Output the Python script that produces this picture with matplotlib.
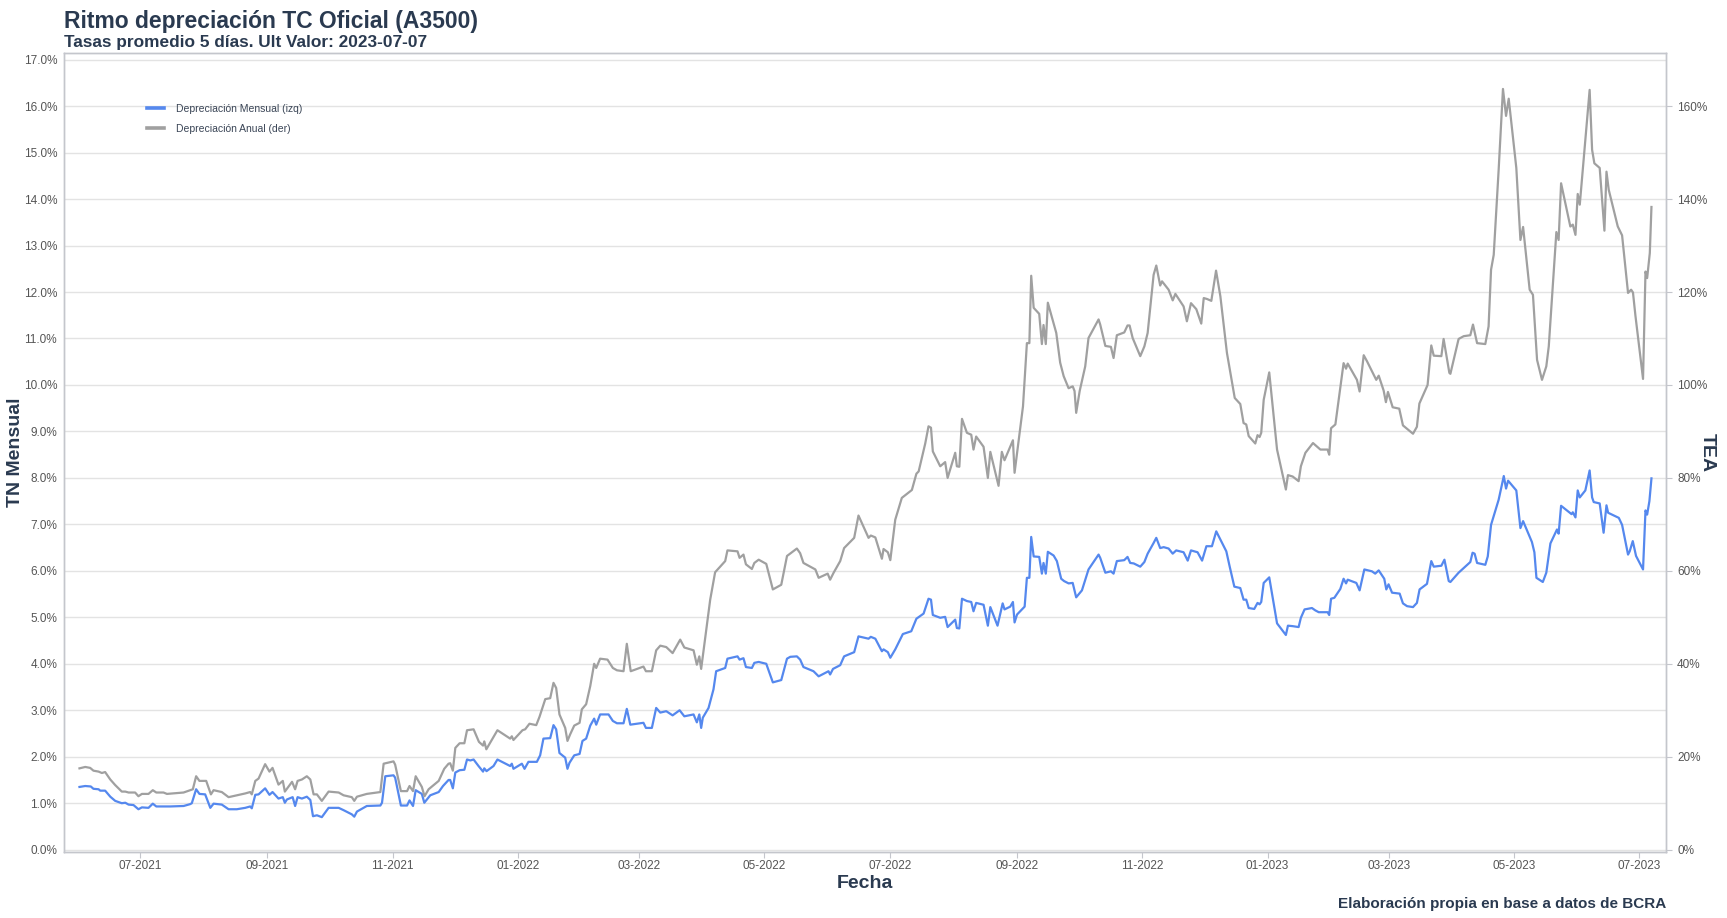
import matplotlib
matplotlib.use("Agg")
import matplotlib.pyplot as plt
import matplotlib.dates as mdates
from matplotlib.ticker import FuncFormatter, MultipleLocator
import pandas as pd

plt.rcParams["font.family"] = ["Liberation Sans", "DejaVu Sans"]

BASE = pd.Timestamp("2021-07-01")

# dias desde 2021-07-01 y tasa nominal mensual (%), eje izquierdo
dias_mensual = [
    -29.5, -26.7, -24.0, -22.7, -20.2, -19.4, -17.0, -14.5, -12.1, -8.9, -7.2, -5.6, -3.2, -0.8, 0.9, 4.1,
    6.2, 7.9, 14.7, 21.2, 24.4, 25.2, 27.3, 28.9, 31.7, 34.2, 35.8, 39.8, 43.1, 47.1, 51.2, 53.6, 54.4,
    56.1, 57.7, 60.9, 63.0, 64.5, 67.4, 69.5, 70.5, 71.5, 74.3, 75.5, 76.7, 78.8, 81.2, 82.9, 84.2, 86.1,
    88.5, 91.8, 96.7, 99.1, 103.1, 104.3, 105.6, 108.0, 110.4, 117.0, 117.8, 119.4, 123.4, 124.2, 127.0,
    130.0, 131.2, 132.9, 134.2, 137.2, 138.4, 141.3, 145.4, 147.5, 150.2, 151.0, 152.3, 153.5, 155.6,
    157.9, 159.2, 160.8, 162.4, 164.8, 167.0, 167.6, 168.7, 172.1, 174.0, 180.2, 181.0, 181.8, 185.9,
    187.2, 189.1, 193.2, 194.8, 196.4, 199.7, 201.3, 202.6, 204.2, 207.0, 208.1, 209.1, 211.4, 214.0,
    215.4, 217.2, 219.2, 221.1, 222.1, 224.0, 228.1, 230.2, 232.2, 235.4, 237.0, 238.7, 245.1, 246.3,
    249.2, 251.3, 253.3, 256.2, 259.3, 262.7, 265.0, 269.5, 271.1, 272.3, 273.2, 274.0, 276.8, 279.2,
    280.5, 284.9, 286.0, 290.9, 291.9, 293.8, 295.0, 297.9, 299.1, 301.2, 304.9, 308.1, 312.2, 315.0,
    316.6, 319.8, 321.4, 323.0, 327.9, 330.4, 335.2, 336.0, 337.4, 340.9, 342.8, 347.7, 349.8, 354.7,
    355.8, 358.0, 361.2, 362.0, 364.1, 365.3, 367.7, 371.4, 375.5, 378.0, 381.5, 383.9, 385.1, 386.0,
    389.6, 392.0, 393.2, 396.9, 397.7, 398.9, 400.2, 402.6, 404.7, 405.8, 407.1, 410.7, 412.8, 414.0,
    417.5, 420.0, 420.9, 423.7, 425.0, 425.8, 427.0, 430.7, 431.8, 433.0, 433.9, 435.1, 437.8, 439.1,
    439.9, 441.0, 442.0, 444.8, 446.4, 448.5, 449.9, 452.1, 454.1, 455.8, 458.6, 461.8, 466.7, 467.5,
    470.0, 472.7, 474.0, 475.6, 479.2, 480.8, 482.1, 483.8, 487.0, 489.0, 490.6, 493.5, 494.8, 496.7,
    498.4, 500.8, 502.8, 504.5, 508.1, 510.1, 511.7, 514.9, 517.1, 519.2, 521.9, 524.0, 528.9, 530.5,
    532.8, 535.7, 537.3, 538.6, 539.8, 542.5, 544.1, 545.1, 545.9, 547.1, 549.8, 553.6, 557.9, 558.9,
    561.2, 564.1, 565.2, 567.0, 570.6, 572.2, 573.9, 578.2, 579.0, 579.9, 581.5, 584.4, 586.0, 587.2,
    588.0, 592.2, 593.8, 596.1, 599.8, 601.4, 603.1, 605.8, 606.8, 607.9, 609.6, 613.3, 614.9, 616.9,
    619.8, 621.7, 623.0, 626.6, 628.7, 629.9, 633.6, 635.1, 637.2, 638.0, 642.0, 647.7, 648.8, 649.8,
    651.0, 655.0, 656.2, 657.8, 661.5, 664.0, 665.1, 666.1, 670.1, 672.1, 673.4, 677.7, 678.9, 679.9,
    683.0, 684.7, 686.7, 689.9, 690.7, 691.9, 697.0, 697.6, 698.9, 700.0, 701.0, 703.7, 705.8, 707.0,
    707.8, 710.7, 712.6, 714.0, 714.8, 720.0, 721.6, 724.5, 725.3, 726.8, 728.4, 731.8, 733.0, 733.8,
    734.9, 735.9,
]
tn_mensual = [
    1.35, 1.37, 1.36, 1.31, 1.30, 1.27, 1.27, 1.14, 1.05, 1.00, 1.01, 0.97, 0.96, 0.87, 0.91, 0.90,
    0.99, 0.93, 0.93, 0.94, 0.98, 1.00, 1.30, 1.20, 1.19, 0.90, 0.99, 0.97, 0.87, 0.87, 0.90, 0.93, 0.89,
    1.18, 1.19, 1.32, 1.18, 1.24, 1.10, 1.13, 1.01, 1.08, 1.13, 0.94, 1.13, 1.10, 1.14, 1.07, 0.72, 0.74,
    0.70, 0.90, 0.90, 0.85, 0.76, 0.71, 0.82, 0.88, 0.94, 0.95, 1.01, 1.58, 1.60, 1.55, 0.95,
    0.95, 1.06, 0.94, 1.28, 1.20, 1.01, 1.17, 1.24, 1.37, 1.50, 1.50, 1.32, 1.66, 1.71,
    1.72, 1.94, 1.92, 1.94, 1.80, 1.68, 1.75, 1.69, 1.80, 1.94, 1.80, 1.85, 1.74, 1.85,
    1.74, 1.89, 1.89, 2.03, 2.39, 2.40, 2.68, 2.59, 2.08, 1.98, 1.74, 1.87, 2.03, 2.06,
    2.34, 2.39, 2.67, 2.82, 2.69, 2.91, 2.91, 2.77, 2.72, 2.72, 3.03, 2.69, 2.73, 2.62,
    2.62, 3.05, 2.95, 2.98, 2.89, 3.00, 2.87, 2.91, 2.74, 2.91, 2.62, 2.84, 3.05, 3.45,
    3.84, 3.91, 4.11, 4.16, 4.09, 4.12, 3.93, 3.91, 4.02, 4.04, 4.00, 3.60, 3.65, 4.11,
    4.15, 4.16, 4.09, 3.93, 3.84, 3.73, 3.84, 3.77, 3.89, 3.97, 4.16, 4.25, 4.59, 4.54,
    4.58, 4.54, 4.27, 4.31, 4.25, 4.13, 4.31, 4.64, 4.70, 4.97, 5.08, 5.40, 5.38, 5.05,
    4.99, 5.01, 4.79, 4.95, 4.77, 4.76, 5.40, 5.35, 5.33, 5.13, 5.31, 5.27, 4.82, 5.22,
    4.82, 5.30, 5.17, 5.23, 5.33, 4.89, 5.06, 5.23, 5.85, 5.85, 6.73, 6.31, 6.30, 5.94,
    6.17, 5.94, 6.41, 6.33, 6.21, 5.83, 5.78, 5.73, 5.74, 5.43, 5.58, 6.03, 6.35, 6.28,
    5.96, 5.99, 5.94, 6.21, 6.23, 6.30, 6.17, 6.16, 6.09, 6.19, 6.37, 6.60, 6.71, 6.49,
    6.51, 6.48, 6.37, 6.44, 6.40, 6.22, 6.44, 6.40, 6.22, 6.53, 6.53, 6.85, 6.42, 6.10,
    5.66, 5.63, 5.38, 5.38, 5.20, 5.18, 5.31, 5.28, 5.33, 5.74, 5.86, 4.87, 4.62, 4.82,
    4.81, 4.79, 4.99, 5.17, 5.20, 5.15, 5.11, 5.11, 5.05, 5.40, 5.42, 5.61, 5.83, 5.73,
    5.81, 5.74, 5.58, 6.03, 5.99, 5.94, 6.01, 5.83, 5.60, 5.71, 5.53, 5.51, 5.30, 5.24,
    5.22, 5.31, 5.60, 5.72, 6.21, 6.09, 6.11, 6.24, 5.78, 5.76, 5.96, 6.19, 6.39, 6.37,
    6.17, 6.13, 6.31, 6.99, 7.53, 8.04, 7.77, 7.94, 7.73, 6.92, 7.07, 6.62, 6.40, 5.85,
    5.76, 5.96, 6.59, 6.89, 6.80, 7.40, 7.22, 7.26, 7.15, 7.73, 7.58, 7.73, 8.16, 7.58,
    7.48, 7.45, 6.82, 7.41, 7.25, 7.14, 6.99, 6.35, 6.42, 6.64, 6.32, 6.03, 7.30, 7.21,
    7.50, 7.99,
]

# dias desde 2021-07-01 y tasa efectiva anual (%), eje derecho
dias_anual = [
    -29.5, -26.7, -24.3, -22.7, -20.2, -18.6, -17.0, -14.5, -12.1, -8.9, -7.2, -5.6, -2.4, -0.8, 0.9, 4.1,
    6.2, 7.9, 11.4, 13.1, 21.2, 24.4, 25.7, 27.3, 28.9, 32.2, 34.5, 35.8, 39.8, 43.1, 47.1, 51.2, 53.6,
    54.4, 56.1, 57.7, 60.9, 63.0, 64.5, 67.4, 69.5, 70.5, 74.0, 75.5, 76.7, 78.8, 81.2, 82.9, 84.5, 86.1,
    88.5, 91.8, 96.7, 99.1, 103.1, 104.3, 105.6, 108.0, 110.4, 117.0, 118.6, 123.4, 124.2, 127.0, 130.0,
    131.2, 132.9, 134.2, 137.2, 138.5, 140.5, 145.4, 148.1, 150.2, 151.0, 152.3, 153.5, 155.6, 157.9,
    159.2, 162.4, 165.0, 167.0, 167.6, 168.6, 174.0, 180.2, 181.0, 181.8, 186.2, 187.5, 189.6, 192.9,
    194.5, 197.3, 199.7, 201.3, 202.6, 204.2, 207.0, 208.1, 209.4, 211.4, 214.0, 215.1, 217.2, 219.2,
    221.1, 222.1, 224.0, 227.6, 230.2, 232.2, 235.4, 237.0, 238.9, 245.1, 246.3, 249.2, 251.3, 253.3,
    256.2, 259.3, 263.0, 265.0, 269.5, 271.1, 272.3, 273.2, 277.6, 280.0, 284.9, 286.0, 290.9, 291.9,
    293.8, 295.0, 297.9, 299.1, 301.2, 304.9, 308.1, 312.2, 315.0, 319.8, 321.4, 323.0, 328.8, 330.4,
    334.8, 336.0, 337.7, 340.9, 342.8, 347.7, 349.8, 354.7, 355.8, 358.0, 361.2, 362.0, 364.1, 365.3,
    367.7, 370.9, 375.8, 378.0, 379.1, 382.3, 383.9, 385.1, 386.0, 389.6, 392.0, 393.2, 396.9, 397.7,
    398.9, 400.2, 402.6, 404.7, 405.8, 407.1, 410.7, 412.8, 414.0, 418.0, 419.6, 420.9, 425.0, 425.8,
    429.9, 431.8, 433.0, 433.9, 435.1, 437.8, 439.1, 439.9, 441.0, 442.0, 446.1, 448.0, 449.7, 452.1,
    454.1, 455.0, 455.8, 457.5, 460.2, 461.8, 466.7, 467.5, 470.0, 472.7, 474.0, 475.6, 479.2, 480.8,
    481.8, 483.3, 487.0, 489.0, 490.6, 493.5, 494.8, 496.7, 497.6, 500.8, 502.8, 504.1, 508.1, 509.7,
    511.7, 514.3, 516.7, 517.9, 519.5, 521.6, 523.9, 526.0, 529.2, 533.0, 535.7, 537.3, 538.6, 539.8,
    543.0, 544.1, 545.1, 545.9, 547.1, 549.8, 553.6, 557.9, 558.9, 561.2, 564.1, 565.2, 567.4, 571.1,
    573.4, 574.7, 578.2, 579.0, 579.9, 582.0, 586.0, 587.2, 588.0, 591.7, 592.5, 593.8, 595.8, 597.4,
    601.9, 603.1, 605.5, 606.6, 607.6, 609.9, 613.1, 614.9, 619.8, 621.7, 622.9, 626.9, 628.7, 629.9,
    633.6, 634.7, 637.5, 638.0, 642.0, 644.5, 647.7, 649.0, 651.0, 655.0, 656.6, 657.8, 659.1, 661.5,
    663.6, 665.1, 666.4, 670.1, 672.1, 673.4, 676.6, 678.2, 680.2, 682.6, 684.7, 685.9, 689.6, 690.7,
    691.9, 696.4, 697.6, 698.9, 700.0, 701.0, 705.8, 707.0, 708.1, 710.7, 713.0, 714.0, 715.1, 719.5,
    721.6, 724.5, 726.0, 726.9, 728.1, 731.8, 733.0, 733.8, 735.1, 735.9,
]
tea_anual = [
    17.5, 17.8, 17.6, 17.0, 16.8, 16.5, 16.7, 15.1, 13.9, 12.5, 12.5, 12.3, 12.3, 11.5, 12.0, 12.0,
    12.8, 12.3, 12.3, 12.0, 12.3, 12.8, 13.0, 15.8, 14.8, 14.8, 11.9, 12.8, 12.4, 11.3, 11.7, 12.1, 12.4,
    11.9, 14.8, 15.3, 18.4, 16.8, 17.6, 14.0, 14.8, 12.5, 14.6, 13.0, 14.8, 15.1, 15.8, 15.1, 11.9, 11.9,
    10.5, 12.5, 12.3, 11.7, 11.3, 10.5, 11.4, 11.7, 12.0, 12.4, 18.5, 19.0, 18.3, 12.6, 12.6,
    13.7, 12.6, 15.8, 13.5, 11.5, 13.0, 14.8, 17.4, 18.5, 18.6, 17.0, 21.9, 22.9, 22.9,
    25.7, 25.9, 23.2, 22.4, 23.3, 21.6, 25.7, 23.9, 24.4, 23.6, 25.7, 25.9, 27.1, 26.8,
    28.6, 32.4, 32.6, 35.9, 34.8, 29.1, 26.2, 23.4, 24.8, 26.7, 27.3, 30.2, 31.3, 35.2,
    40.0, 39.1, 41.1, 40.9, 39.1, 38.6, 38.4, 44.3, 38.4, 39.4, 38.4, 38.4, 42.9, 43.9,
    43.6, 42.3, 45.2, 43.5, 42.9, 39.8, 41.6, 38.9, 53.8, 59.7, 62.1, 64.4, 64.2, 62.8,
    63.5, 61.4, 60.4, 61.7, 62.4, 61.5, 56.0, 57.0, 63.2, 64.8, 63.8, 61.7, 60.3, 58.5,
    59.4, 58.1, 59.6, 62.1, 64.9, 67.1, 71.9, 67.1, 67.6, 67.2, 62.6, 64.7, 64.0, 62.3,
    71.0, 75.7, 77.4, 80.9, 81.4, 87.4, 91.1, 90.8, 85.7, 82.5, 83.4, 80.0, 85.4, 82.5,
    82.4, 92.7, 89.7, 89.3, 86.1, 88.9, 86.7, 80.0, 85.6, 78.3, 85.6, 83.8, 88.1, 81.1,
    95.4, 109.0, 109.0, 123.5, 116.6, 115.3, 108.8, 112.9, 108.8, 117.7, 111.2, 104.8, 101.9, 99.3,
    99.7, 98.7, 94.0, 98.7, 104.0, 110.1, 114.1, 113.0, 108.4, 108.2, 105.8, 110.7, 111.3, 112.8,
    112.8, 110.1, 106.2, 108.3, 111.2, 123.7, 125.7, 121.4, 122.3, 120.5, 118.2, 119.6, 116.9, 113.7,
    117.6, 116.3, 113.2, 118.7, 118.5, 118.1, 124.6, 119.1, 106.9, 97.2, 95.9, 91.8, 91.5, 89.0,
    87.4, 89.2, 88.8, 89.7, 96.8, 102.7, 86.1, 77.5, 80.6, 80.3, 79.3, 82.5, 85.4, 87.5,
    86.6, 86.1, 86.1, 85.0, 90.7, 91.5, 104.7, 103.5, 104.6, 101.7, 101.1, 98.6, 106.4, 105.1,
    101.1, 102.0, 98.8, 96.3, 98.5, 95.2, 94.9, 91.3, 89.5, 91.0, 96.0, 100.0, 108.5, 106.3,
    106.2, 109.9, 102.6, 102.4, 109.9, 110.5, 110.7, 113.0, 109.0, 108.8, 112.6, 124.8, 128.0, 146.3,
    163.7, 157.9, 161.6, 146.7, 131.2, 134.0, 120.5, 119.4, 105.4, 101.1, 104.0, 108.3, 132.9, 131.2,
    143.4, 134.1, 134.5, 132.3, 141.1, 138.8, 163.5, 150.6, 147.7, 146.7, 133.2, 145.9, 142.0, 134.1,
    132.2, 119.8, 120.5, 119.9, 114.9, 101.3, 124.4, 123.0, 128.4, 138.3,
]

fechas_mensual = BASE + pd.to_timedelta(dias_mensual, unit="D")
fechas_anual = BASE + pd.to_timedelta(dias_anual, unit="D")

TXT = "#2a3a50"
TICK = "#555555"
FRAME = "#c4c6cc"

fig = plt.figure(figsize=(17.27, 9.18), dpi=100)
ax = fig.add_axes([0.0371, 0.0719, 0.9276, 0.8707])
ax2 = ax.twinx()

ax.plot(fechas_mensual, tn_mensual, color="#5588ee", lw=1.6, label="Depreciación Mensual (izq)", zorder=3)
ax2.plot(fechas_anual, tea_anual, color="#a0a0a0", lw=1.6, label="Depreciación Anual (der)", zorder=2)

ax.set_ylim(-0.05, 17.15)
ax2.set_ylim(-0.5, 171.5)
ax.set_xlim(BASE + pd.Timedelta(days=-37), BASE + pd.Timedelta(days=743))

ax.yaxis.set_major_locator(MultipleLocator(1))
ax.yaxis.set_major_formatter(FuncFormatter(lambda v, p: f"{v:.1f}%"))
ax2.yaxis.set_major_locator(MultipleLocator(20))
ax2.yaxis.set_major_formatter(FuncFormatter(lambda v, p: f"{v:.0f}%"))
ax.xaxis.set_major_locator(mdates.MonthLocator(bymonth=[1, 3, 5, 7, 9, 11]))
ax.xaxis.set_major_formatter(mdates.DateFormatter("%m-%Y"))

ax.grid(axis="y", color="#e3e3e3", lw=1)
ax.set_axisbelow(True)
ax.tick_params(axis="y", labelsize=8.5, colors=TICK, length=0, pad=5)
ax.tick_params(axis="x", labelsize=8.5, colors=TICK, length=4, width=0.8, pad=2)
ax.tick_params(axis="x", color=FRAME)
ax2.tick_params(axis="y", labelsize=8.5, colors=TICK, length=4, width=0.8, pad=4)
ax2.tick_params(axis="y", color=FRAME)
for a in (ax, ax2):
    for s in a.spines.values():
        s.set_color(FRAME)
        s.set_linewidth(1)

ax.set_xlabel("Fecha", fontsize=14, fontweight="bold", color=TXT)
ax.xaxis.set_label_coords(0.5, -0.029)
ax.set_ylabel("TN Mensual", fontsize=14, fontweight="bold", color=TXT, va="center")
ax.yaxis.set_label_coords(-0.0305, 0.5)
ax2.set_ylabel("TEA", fontsize=14, fontweight="bold", color=TXT, rotation=-90, va="center")
ax2.yaxis.set_label_coords(1.0256, 0.5)

h1, l1 = ax.get_legend_handles_labels()
h2, l2 = ax2.get_legend_handles_labels()
leg = ax2.legend(h1 + h2, l1 + l2, loc="upper left", bbox_to_anchor=(0.046, 0.9475), frameon=False,
                 fontsize=7.5, handlelength=1.6, handletextpad=1.15, labelspacing=0.95, labelcolor="#3a4556")
for ln in leg.get_lines():
    ln.set_linewidth(2.6)

fig.text(0.0371, 1 - 28 / 918, "Ritmo depreciación TC Oficial (A3500)", fontsize=16.5,
         fontweight="bold", color=TXT, va="baseline")
fig.text(0.0371, 1 - 47 / 918, "Tasas promedio 5 días. Ult Valor: 2023-07-07", fontsize=12.4,
         fontweight="bold", color=TXT, va="baseline")
fig.text(0.9647, 1 - 908 / 918, "Elaboración propia en base a datos de BCRA", fontsize=11,
         fontweight="bold", color=TXT, ha="right", va="baseline")

fig.savefig("out.png", dpi=100)
